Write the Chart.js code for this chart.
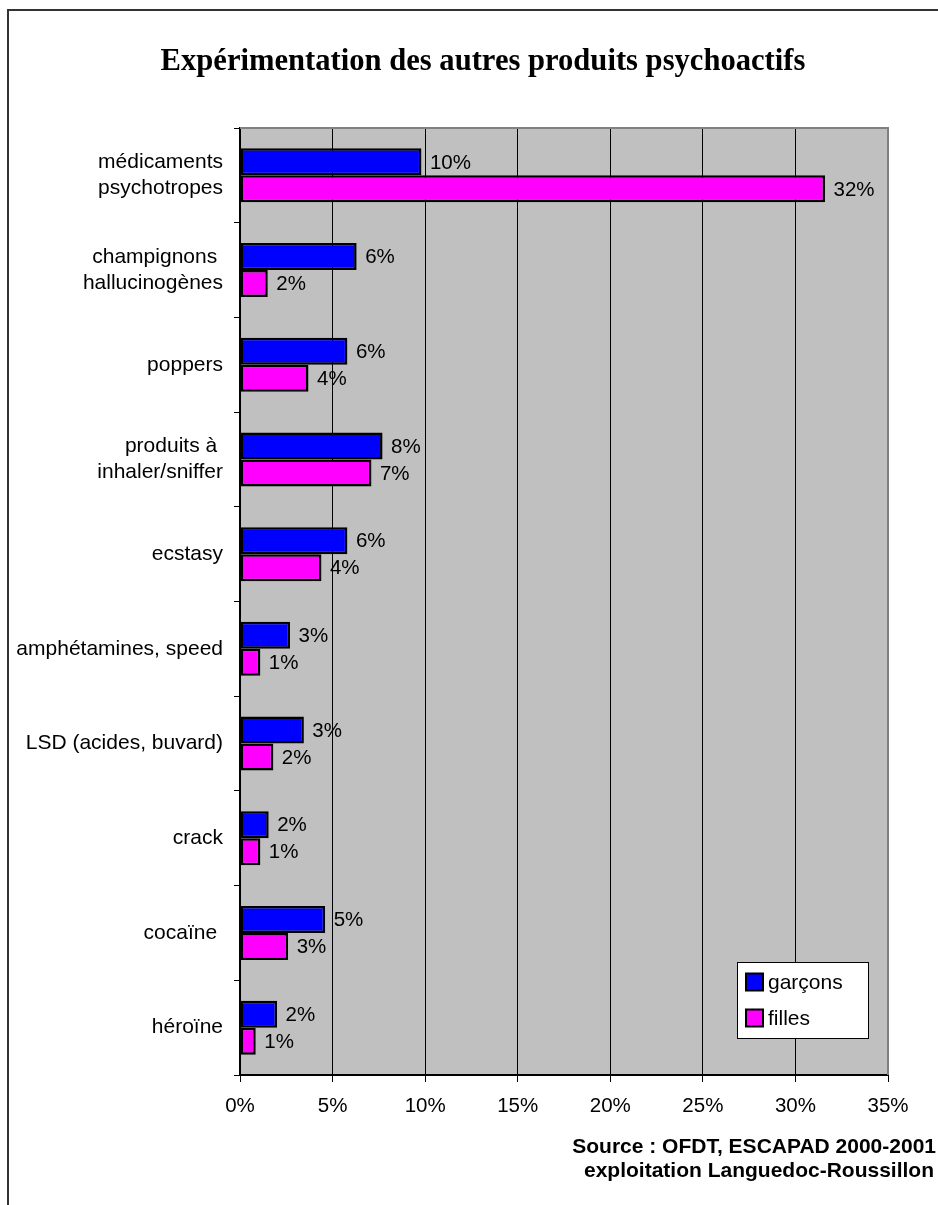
<!DOCTYPE html>
<html>
<head>
<meta charset="utf-8">
<script src="https://cdn.jsdelivr.net/npm/chart.js@4.4.1/dist/chart.umd.min.js"></script>
<style>
  html, body { margin: 0; padding: 0; background: #ffffff; }
  #c { display: block; }
</style>
</head>
<body>
<canvas id="c" width="938" height="1205"></canvas>
<script>
// ---- data ----
const categories = [
  ['médicaments', 'psychotropes'],
  ['champignons ', 'hallucinogènes'],
  'poppers',
  ['produits à ', 'inhaler/sniffer'],
  'ecstasy',
  'amphétamines, speed',
  'LSD (acides, buvard)',
  'crack',
  'cocaïne ',
  'héroïne'
];
const seriesNames = ['garçons', 'filles'];
const garcons = [9.8, 6.3, 5.8, 7.7, 5.8, 2.7, 3.45, 1.55, 4.6, 2.0];
const filles  = [31.6, 1.5, 3.7, 7.1, 4.4, 1.1, 1.8, 1.1, 2.6, 0.85];
const xTicks = [0, 5, 10, 15, 20, 25, 30, 35];
const titleText = 'Expérimentation des autres produits psychoactifs';
const sourceLines = ['Source : OFDT, ESCAPAD 2000-2001', 'exploitation Languedoc-Roussillon'];

const SANS = "'Liberation Sans', Arial, sans-serif";
const SERIF = "'Liberation Serif', 'Times New Roman', serif";
const FS = 20.5;

const decorPlugin = {
  id: 'decor',
  beforeDraw(chart) {
    const ctx = chart.ctx, a = chart.chartArea;
    ctx.save();
    ctx.fillStyle = '#ffffff';
    ctx.fillRect(0, 0, chart.width, chart.height);
    ctx.fillStyle = '#c0c0c0';
    ctx.fillRect(a.left, a.top, a.right - a.left, a.bottom - a.top);
    ctx.restore();
  },
  afterDatasetsDraw(chart) {
    const ctx = chart.ctx;
    ctx.save();
    ctx.font = FS + 'px ' + SANS;
    ctx.fillStyle = '#000';
    ctx.textAlign = 'left';
    ctx.textBaseline = 'middle';
    chart.data.datasets.forEach((ds, di) => {
      const meta = chart.getDatasetMeta(di);
      meta.data.forEach((bar, i) => {
        const v = ds.data[i];
        ctx.fillText(Math.round(v) + '%', bar.x + 8.5, bar.y + 1);
      });
    });
    ctx.restore();
  },
  afterDraw(chart) {
    const ctx = chart.ctx, a = chart.chartArea;
    ctx.save();
    // plot area gray border (top, right)
    ctx.strokeStyle = '#808080';
    ctx.lineWidth = 2;
    ctx.beginPath();
    ctx.moveTo(a.left, a.top);
    ctx.lineTo(a.right, a.top);
    ctx.lineTo(a.right, a.bottom);
    ctx.stroke();

    // outer frame
    ctx.strokeStyle = '#333333';
    ctx.lineWidth = 2;
    ctx.beginPath();
    ctx.moveTo(8, chart.height);
    ctx.lineTo(8, 10);
    ctx.lineTo(chart.width, 10);
    ctx.stroke();

    // title
    ctx.fillStyle = '#000';
    ctx.font = 'bold 30.6px ' + SERIF;
    ctx.textAlign = 'center';
    ctx.textBaseline = 'middle';
    ctx.fillText(titleText, 483, 62);

    // source
    ctx.font = 'bold 21px ' + SANS;
    ctx.textAlign = 'right';
    ctx.fillText(sourceLines[0], 936, 1147);
    ctx.fillText(sourceLines[1], 934, 1171);

    // legend
    const lx = 737, ly = 962, lw = 131, lh = 76;
    ctx.fillStyle = '#ffffff';
    ctx.fillRect(lx, ly, lw, lh);
    ctx.strokeStyle = '#000';
    ctx.lineWidth = 1;
    ctx.strokeRect(lx + 0.5, ly + 0.5, lw, lh);
    const ys = [982, 1018];
    chart.data.datasets.forEach((ds, di) => {
      const y = ys[di];
      ctx.fillStyle = ds.backgroundColor;
      ctx.fillRect(746, y - 8.5, 17, 17);
      ctx.strokeStyle = '#000';
      ctx.lineWidth = 2;
      ctx.strokeRect(746, y - 8.5, 17, 17);
      ctx.fillStyle = '#000';
      ctx.font = '21px ' + SANS;
      ctx.textAlign = 'left';
      ctx.textBaseline = 'middle';
      ctx.fillText(ds.label, 768, y + 1);
    });
    ctx.restore();
  }
};

new Chart(document.getElementById('c'), {
  type: 'bar',
  data: {
    labels: categories,
    datasets: [
      { label: seriesNames[0], data: garcons, backgroundColor: '#0000ff', borderColor: '#000', borderWidth: 2.5, borderSkipped: false },
      { label: seriesNames[1], data: filles, backgroundColor: '#ff00ff', borderColor: '#000', borderWidth: 2.5, borderSkipped: false }
    ]
  },
  options: {
    indexAxis: 'y',
    responsive: false,
    animation: false,
    layout: { padding: { top: 128, right: 50, left: 0, bottom: 0 } },
    datasets: { bar: { categoryPercentage: 0.57, barPercentage: 1.0 } },
    plugins: { legend: { display: false }, title: { display: false }, tooltip: { enabled: false } },
    scales: {
      x: {
        type: 'linear',
        min: 0, max: 35,
        afterBuildTicks(scale) { scale.ticks = xTicks.map(v => ({ value: v })); },
        afterFit(scale) { scale.height = 130; },
        ticks: {
          color: '#000',
          font: { family: SANS, size: FS },
          padding: 12,
          maxRotation: 0,
          callback: v => v + '%'
        },
        grid: { color: '#000', lineWidth: 1, tickLength: 7, drawOnChartArea: true },
        border: { color: '#000', width: 2 }
      },
      y: {
        type: 'category',
        afterFit(scale) { scale.width = 240; },
        ticks: {
          color: '#000',
          font: { family: SANS, size: 21, lineHeight: 1.24 },
          padding: 11,
          autoSkip: false
        },
        grid: { color: '#000', lineWidth: 1, tickLength: 6, drawOnChartArea: false, offset: true },
        border: { color: '#000', width: 2 }
      }
    }
  },
  plugins: [decorPlugin]
});
</script>
</body>
</html>
